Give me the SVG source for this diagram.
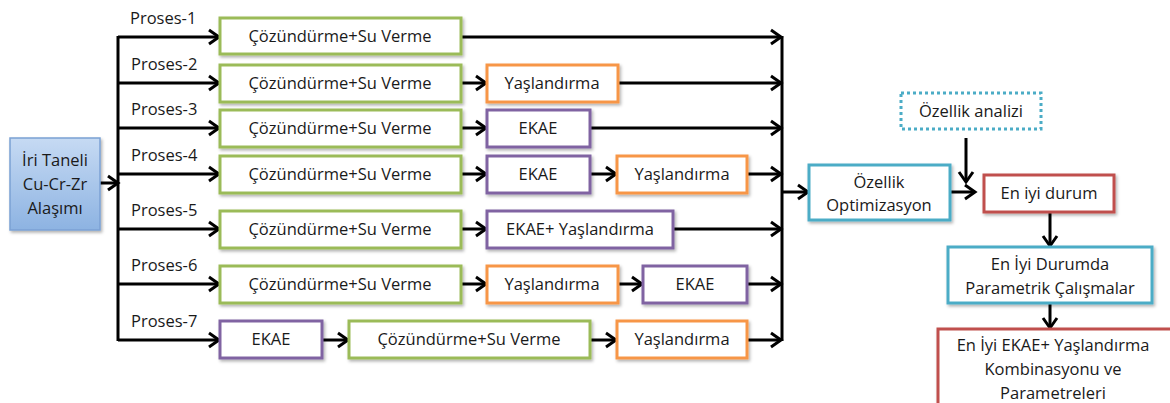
<svg xmlns="http://www.w3.org/2000/svg" width="1170" height="403" viewBox="0 0 1170 403">
<defs>
<linearGradient id="gBlue" x1="0" y1="0" x2="0" y2="1">
<stop offset="0" stop-color="#c6daf3"/>
<stop offset="1" stop-color="#8db3e2"/>
</linearGradient>
<filter id="sh" x="-10%" y="-10%" width="130%" height="140%">
<feDropShadow dx="1.5" dy="2" stdDeviation="1.5" flood-color="#000" flood-opacity="0.3"/>
</filter>
<marker id="ar" markerUnits="userSpaceOnUse" markerWidth="16" markerHeight="18" refX="12" refY="8" orient="auto" overflow="visible">
<path d="M2,1 L12,8 L2,15" fill="none" stroke="#000" stroke-width="3"/>
</marker>
</defs>
<style>
rect{fill:#fff;stroke-width:3;filter:url(#sh)}
.g{stroke:#9bbb59}
.o{stroke:#f79646}
.p{stroke:#8064a2}
.t{stroke:#4bacc6}
.r{stroke:#c0504d}
.d{stroke:#4bacc6;stroke-dasharray:3 3}
.b{fill:url(#gBlue);stroke:#7ba1d4;stroke-width:1.5}
text{font-family:"Open Sans","Liberation Sans",Arial,sans-serif;font-size:16.5px;fill:#1a1a1a;text-anchor:middle}
.lb{text-anchor:start}
#conn line,#conn path{stroke:#000;stroke-width:3;fill:none}
</style>

<g id="conn">
<line x1="118" y1="36" x2="118" y2="341"/>
<line x1="782" y1="36" x2="782" y2="341"/>
<line x1="100" y1="183" x2="118" y2="183" marker-end="url(#ar)"/>
<line x1="118" y1="37" x2="219" y2="37" marker-end="url(#ar)"/>
<line x1="118" y1="83" x2="219" y2="83" marker-end="url(#ar)"/>
<line x1="118" y1="128" x2="219" y2="128" marker-end="url(#ar)"/>
<line x1="118" y1="174" x2="219" y2="174" marker-end="url(#ar)"/>
<line x1="118" y1="229" x2="219" y2="229" marker-end="url(#ar)"/>
<line x1="118" y1="284" x2="219" y2="284" marker-end="url(#ar)"/>
<line x1="118" y1="340" x2="219" y2="340" marker-end="url(#ar)"/>
<line x1="461" y1="37" x2="781" y2="37" marker-end="url(#ar)"/>
<line x1="461" y1="83" x2="486" y2="83" marker-end="url(#ar)"/>
<line x1="618" y1="83" x2="781" y2="83" marker-end="url(#ar)"/>
<line x1="461" y1="128" x2="486" y2="128" marker-end="url(#ar)"/>
<line x1="590" y1="128" x2="781" y2="128" marker-end="url(#ar)"/>
<line x1="461" y1="174" x2="486" y2="174" marker-end="url(#ar)"/>
<line x1="590" y1="174" x2="616" y2="174" marker-end="url(#ar)"/>
<line x1="747" y1="174" x2="781" y2="174" marker-end="url(#ar)"/>
<line x1="461" y1="229" x2="486" y2="229" marker-end="url(#ar)"/>
<line x1="673" y1="229" x2="781" y2="229" marker-end="url(#ar)"/>
<line x1="461" y1="284" x2="486" y2="284" marker-end="url(#ar)"/>
<line x1="618" y1="284" x2="642" y2="284" marker-end="url(#ar)"/>
<line x1="747" y1="284" x2="781" y2="284" marker-end="url(#ar)"/>
<line x1="322" y1="340" x2="348" y2="340" marker-end="url(#ar)"/>
<line x1="590" y1="340" x2="616" y2="340" marker-end="url(#ar)"/>
<line x1="747" y1="340" x2="781" y2="340" marker-end="url(#ar)"/>
<line x1="782" y1="192" x2="808" y2="192" marker-end="url(#ar)"/>
<line x1="950" y1="192" x2="975" y2="192" marker-end="url(#ar)"/>
<line x1="966" y1="138" x2="966" y2="182" marker-end="url(#ar)"/>
<line x1="1050" y1="212" x2="1050" y2="246" marker-end="url(#ar)"/>
<line x1="1050" y1="303" x2="1050" y2="328" marker-end="url(#ar)"/>
</g>

<g id="labels">
<text class="lb" x="130" y="24">Proses-1</text>
<text class="lb" x="131" y="70">Proses-2</text>
<text class="lb" x="131" y="115">Proses-3</text>
<text class="lb" x="131" y="161">Proses-4</text>
<text class="lb" x="131" y="216">Proses-5</text>
<text class="lb" x="131" y="271">Proses-6</text>
<text class="lb" x="131" y="327">Proses-7</text>
</g>

<g id="alloy"><rect class="b" x="10" y="138" width="90" height="92"/>
<text x="55" y="166">İri Taneli</text><text x="55" y="190">Cu-Cr-Zr</text><text x="55" y="214">Alaşımı</text></g>

<g id="r1c"><rect class="g" x="220" y="18" width="241" height="36"/><text x="340" y="42">Çözündürme+Su Verme</text></g>
<g id="r2c"><rect class="g" x="220" y="65" width="241" height="37"/><text x="340" y="89">Çözündürme+Su Verme</text></g>
<g id="r2y"><rect class="o" x="487" y="65" width="131" height="37"/><text x="552" y="89">Yaşlandırma</text></g>
<g id="r3c"><rect class="g" x="220" y="110" width="241" height="37"/><text x="340" y="134">Çözündürme+Su Verme</text></g>
<g id="r3e"><rect class="p" x="487" y="110" width="103" height="37"/><text x="538" y="134">EKAE</text></g>
<g id="r4c"><rect class="g" x="220" y="156" width="241" height="37"/><text x="340" y="180">Çözündürme+Su Verme</text></g>
<g id="r4e"><rect class="p" x="487" y="156" width="103" height="37"/><text x="538" y="180">EKAE</text></g>
<g id="r4y"><rect class="o" x="617" y="156" width="130" height="37"/><text x="682" y="180">Yaşlandırma</text></g>
<g id="r5c"><rect class="g" x="220" y="211" width="241" height="37"/><text x="340" y="235">Çözündürme+Su Verme</text></g>
<g id="r5ey"><rect class="p" x="487" y="211" width="186" height="37"/><text x="580" y="235">EKAE+ Yaşlandırma</text></g>
<g id="r6c"><rect class="g" x="220" y="266" width="241" height="37"/><text x="340" y="290">Çözündürme+Su Verme</text></g>
<g id="r6y"><rect class="o" x="487" y="266" width="131" height="37"/><text x="552" y="290">Yaşlandırma</text></g>
<g id="r6e"><rect class="p" x="643" y="266" width="104" height="37"/><text x="695" y="290">EKAE</text></g>
<g id="r7e"><rect class="p" x="220" y="321" width="102" height="37"/><text x="271" y="345">EKAE</text></g>
<g id="r7c"><rect class="g" x="349" y="321" width="241" height="37"/><text x="469" y="345">Çözündürme+Su Verme</text></g>
<g id="r7y"><rect class="o" x="617" y="321" width="130" height="37"/><text x="682" y="345">Yaşlandırma</text></g>

<g id="opt"><rect class="t" x="809" y="165" width="141" height="55"/><text x="879" y="188">Özellik</text><text x="879" y="211">Optimizasyon</text></g>
<g id="analiz"><rect class="d" x="901" y="93" width="140" height="36" style="filter:none"/><text x="971" y="117">Özellik analizi</text></g>
<g id="best"><rect class="r" x="984" y="175" width="130" height="37"/><text x="1049" y="199">En iyi durum</text></g>
<g id="param"><rect class="t" x="948" y="247" width="204" height="56"/><text x="1050" y="270">En İyi Durumda</text><text x="1050" y="294">Parametrik Çalışmalar</text></g>
<g id="final"><rect class="r" x="938" y="329" width="240" height="90"/><text x="1053" y="351">En İyi EKAE+ Yaşlandırma</text><text x="1053" y="375">Kombinasyonu ve</text><text x="1053" y="399">Parametreleri</text></g>
</svg>
